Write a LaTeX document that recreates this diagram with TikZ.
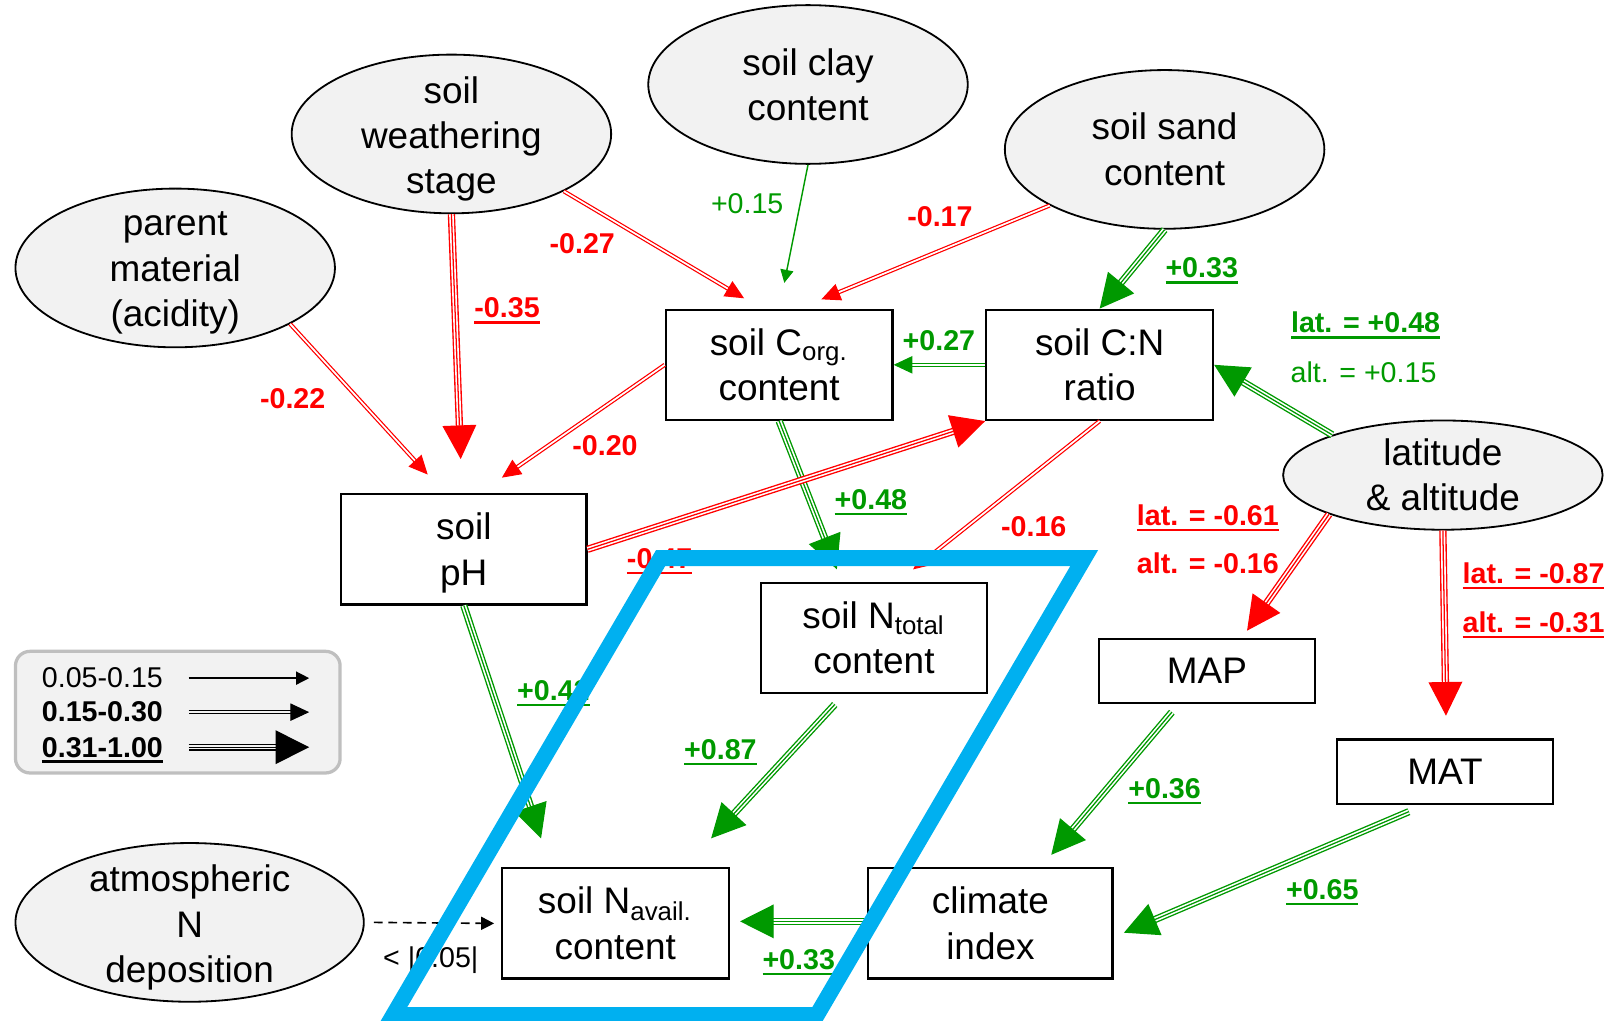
\documentclass[tikz,border=0pt]{standalone}
\usepackage{fontspec}
\setmainfont{Liberation Sans}
\usetikzlibrary{shapes.geometric,arrows.meta,positioning}
\definecolor{neg}{HTML}{FF0000}
\definecolor{pos}{HTML}{009900}
\definecolor{focus}{HTML}{00B0F0}
\definecolor{latent}{HTML}{F2F2F2}
\definecolor{legrule}{HTML}{BFBFBF}
\colorlet{gap}{white}
\newcommand\sig[1]{\setbox0\hbox{#1}\rlap{\raisebox{-1.6pt}[0pt][0pt]{\rule{\wd0}{.65pt}}}\box0}

\begin{document}
\begin{tikzpicture}[font=\fontsize{10.2}{12.5}\selectfont,
  lv/.style={ellipse,draw=black,line width=.5pt,fill=latent,minimum width=31mm,minimum height=15.4mm},
  txt/.style={align=center,inner sep=0pt},
  mv/.style={draw=black,line width=.6pt,fill=white,align=center,minimum width=22mm,
             minimum height=10.7mm,inner sep=1pt},
  val/.style={font=\fontsize{7.9}{9.5}\selectfont\bfseries,inner sep=0pt},
  valr/.style={font=\fontsize{7.9}{9.5}\selectfont,inner sep=0pt},
  one/.style={draw=#1,line width=.4pt,-{Triangle[length=3.6pt,width=3.6pt]}},
  two/.style={draw=gap,line width=.3pt,-{Triangle[length=5.2pt,width=4.8pt,color=#1]},
              preaction={draw=#1,-,double=gap,double distance=.45pt,line width=.35pt,shorten >=4.5pt}},
  three/.style={draw=#1,line width=.35pt,-{Triangle[length=9.3pt,width=9.3pt]},
                preaction={draw=#1,-,double=gap,double distance=1.25pt,line width=.38pt,shorten >=8.4pt}}]
\useasboundingbox (0,0) rectangle (15.68,9.9);

\node[lv](pm) at (1.70,7.30){}; \node[txt,yshift=-.5mm](pm-t) at (pm){parent\\material\\(acidity)};
\node[lv](sws) at (4.38,8.60){}; \node[txt,yshift=-.5mm](sws-t) at (sws){soil\\weathering\\stage};
\node[lv](clay) at (7.84,9.08){}; \node[txt](clay-t) at (clay){soil clay\\content};
\node[lv](sand) at (11.30,8.45){}; \node[txt](sand-t) at (sand){soil sand\\content};
\node[lv,minimum height=10.6mm](geo) at (14.00,5.29){}; \node[txt](geo-t) at (geo){latitude\\\& altitude};
\node[lv,minimum width=33.8mm](atm) at (1.84,0.95){}; \node[txt,yshift=-.5mm](atm-t) at (atm){atmospheric\\N\\deposition};

\node[mv](corg) at (7.56,6.36){soil C\textsubscript{org.}\\content};
\node[mv](cn) at (10.67,6.36){soil C:N\\ratio};
\node[mv,minimum width=23.8mm](ph) at (4.50,4.57){}; \node[txt,yshift=-.35mm](ph-t) at (ph){soil\\pH};
\node[mv](ntot) at (8.48,3.71){soil N\textsubscript{total}\\content};
\node[mv,minimum width=21mm,minimum height=6.2mm](map) at (11.71,3.39){MAP};
\node[mv,minimum width=21mm,minimum height=6.3mm](mat) at (14.02,2.41){MAT};
\node[mv](nav) at (5.97,0.94){soil N\textsubscript{avail.}\\content};
\node[mv,minimum width=23.7mm](clim) at (9.61,0.94){climate\\index};

\node[draw=legrule,line width=.9pt,fill=latent,rounded corners=4pt,minimum width=31.5mm,
      minimum height=11.8mm](key) at (1.725,2.99){};
\node[valr,anchor=west](k1) at (0.40,3.32){0.05-0.15};
\node[val,anchor=west](k2) at (0.40,2.99){0.15-0.30};
\node[val,anchor=west](k3) at (0.40,2.65){\sig{0.31-1.00}};
\begin{scope}
\colorlet{gap}{latent}
\coordinate(k1a) at (1.83,3.32); \coordinate(k1b) at (3.00,3.32);
\coordinate(k2a) at (1.83,2.99); \coordinate(k2b) at (3.00,2.99);
\coordinate(k3a) at (1.83,2.65); \coordinate(k3b) at (3.00,2.65);
\draw[one=black](k1a)--(k1b); \draw[two=black](k2a)--(k2b); \draw[three=black](k3a)--(k3b);
\end{scope}

\draw[two=neg](pm.-26)--([xshift=-3.5mm,yshift=1.8mm]ph.north);
\draw[three=neg](sws.south)--([xshift=-.3mm,yshift=3.3mm]ph.north);
\draw[two=neg](sws.-27)--([xshift=-3.4mm,yshift=1mm]corg.north);
\draw[one=pos](clay.south)--([xshift=.5mm,yshift=2.5mm]corg.north);
\draw[two=neg](sand.206)--([xshift=4.1mm,yshift=.9mm]corg.north);
\draw[three=pos](sand.south)--(cn.north);
\draw[two=pos](cn.west)--(corg.east);
\draw[two=neg](corg.west)--([xshift=3.7mm,yshift=1.5mm]ph.north);
\draw[three=pos](corg.south)--([xshift=-3.6mm,yshift=1.2mm]ntot.north);
\draw[two=neg](cn.south)--([xshift=3.8mm,yshift=1.2mm]ntot.north);
\draw[three=neg](ph.east)--(cn.south west);
\draw[three=pos](geo.160)--(cn.east);
\draw[three=neg](geo.199)--([xshift=3.9mm,yshift=.7mm]map.north);
\draw[three=neg](geo.south)--([xshift=.1mm,yshift=2.2mm]mat.north);
\draw[three=pos](ph.south)--([xshift=-7.2mm,yshift=2.8mm]nav.north);
\draw[three=pos]([xshift=-3.8mm,yshift=-1mm]ntot.south)--([xshift=9.3mm,yshift=2.8mm]nav.north);
\draw[three=pos]([xshift=-3.4mm,yshift=-.8mm]map.south)--([xshift=5.9mm,yshift=1.2mm]clim.north);
\draw[three=pos]([xshift=-3.5mm,yshift=-.6mm]mat.south)--([xshift=1mm,yshift=-.9mm]clim.east);
\draw[three=pos]([yshift=.2mm]clim.west)--([xshift=1mm,yshift=.2mm]nav.east);
\draw[one=black,line width=.45pt,dash pattern=on 2.4pt off 1.6pt]([xshift=.9mm]atm.east)--([xshift=-.65mm]nav.west);

\node[val,text=neg](w1) at (2.84,6.03){-0.22};
\node[val,text=neg](w2) at (4.92,6.91){\sig{-0.35}};
\node[val,text=neg](w3) at (5.65,7.54){-0.27};
\node[valr,text=pos](w4) at (7.25,7.92){+0.15};
\node[val,text=neg](w5) at (9.12,7.80){-0.17};
\node[val,text=pos](w6) at (11.66,7.30){\sig{+0.33}};
\node[val,text=pos](w7) at (9.11,6.59){+0.27};
\node[val,text=neg](w8) at (5.87,5.58){-0.20};
\node[val,text=pos](w9) at (8.45,5.05){\sig{+0.48}};
\node[val,text=neg](w10) at (10.03,4.79){-0.16};
\node[val,text=neg](w11) at (6.40,4.48){\sig{-0.47}};
\node[val,text=pos](w12) at (13.25,6.77){\sig{lat. = +0.48}};
\node[valr,text=pos](w12b) at (13.23,6.29){alt. = +0.15};
\node[val,text=neg](w13) at (11.72,4.90){\sig{lat. = -0.61}};
\node[val,text=neg](w13b) at (11.72,4.43){alt. = -0.16};
\node[val,text=neg](w14) at (14.88,4.34){\sig{lat. = -0.87}};
\node[val,text=neg](w14b) at (14.88,3.86){\sig{alt. = -0.31}};
\node[val,text=pos](w15) at (5.37,3.20){\sig{+0.42}};
\node[val,text=pos](w16) at (6.99,2.63){\sig{+0.87}};
\node[val,text=pos](w17) at (11.30,2.25){\sig{+0.36}};
\node[val,text=pos](w18) at (12.83,1.27){\sig{+0.65}};
\node[val,text=pos](w19) at (7.75,0.59){\sig{+0.33}};
\node[valr](w20) at (4.18,0.58){< |0.05|};

\draw[draw=focus,line width=4.4pt](6.41,4.485)--(10.52,4.485)--(7.926,0.05)--(3.816,0.05)--cycle;
\end{tikzpicture}
\end{document}
